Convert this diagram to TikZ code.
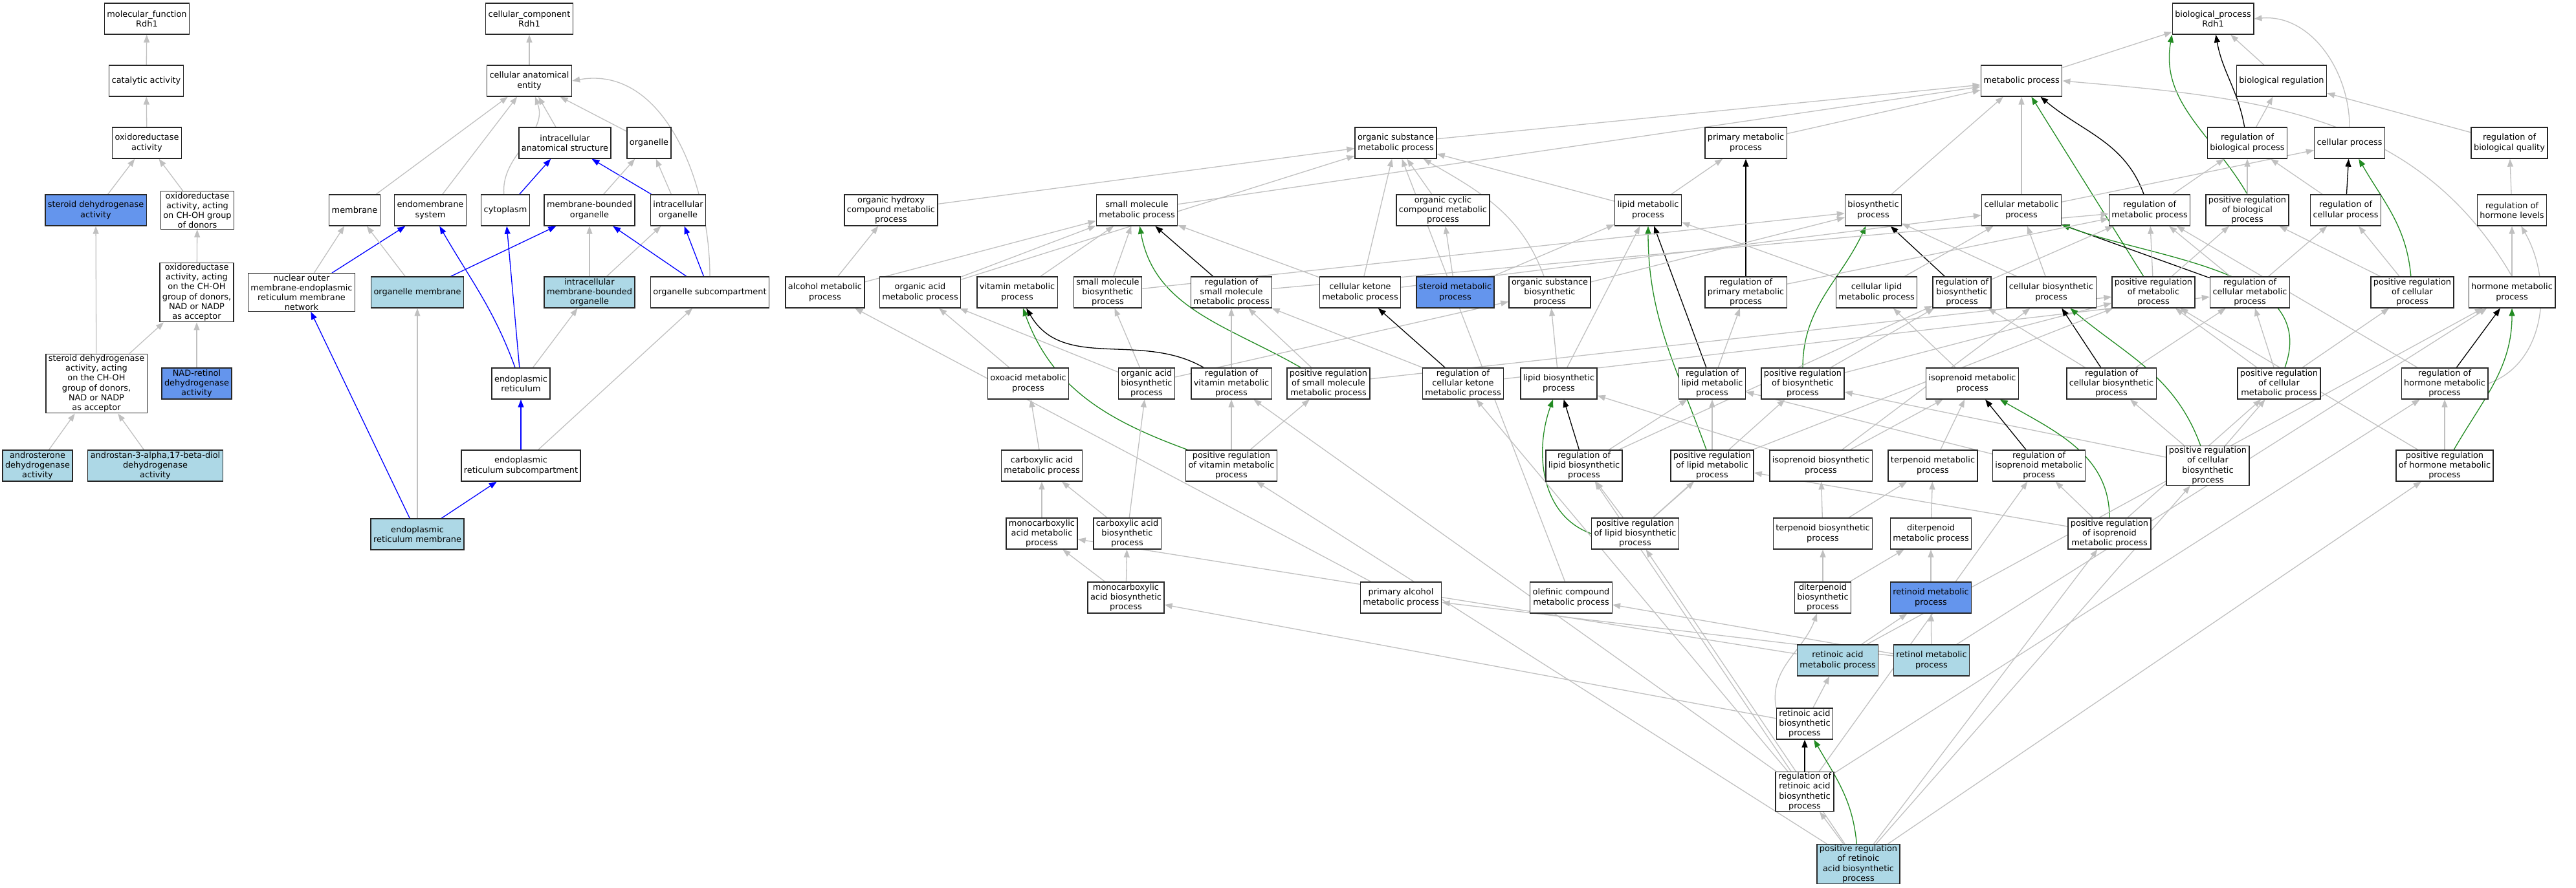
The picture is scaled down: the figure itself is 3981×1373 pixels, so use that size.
\documentclass[tikz,border=0pt]{standalone}
\usepackage{fontspec}
\setmainfont{DejaVu Sans}
\usetikzlibrary{arrows.meta, backgrounds}

\definecolor{edgegray}{RGB}{192,192,192}
\definecolor{partblue}{RGB}{0,0,255}
\definecolor{posgreen}{RGB}{34,139,34}
\definecolor{hitblue}{RGB}{100,149,237}
\definecolor{annoblue}{RGB}{173,216,230}

\tikzset{
    goterm/.style={draw=black!85, line width=1.4pt, fill=white, align=center,
        inner xsep=4pt, inner ysep=1.5pt, minimum height=48pt,
        font=\fontsize{12.9}{15.2}\selectfont},
    gohit/.style={goterm, fill=hitblue},
    goanno/.style={goterm, fill=annoblue},
    isa/.style={color=edgegray, line width=1.3pt, -{Triangle[length=12pt,width=9pt]}},
    partof/.style={isa, color=partblue},
    regulates/.style={isa, color=black},
    posreg/.style={isa, color=posgreen}
}

\begin{document}
\begin{tikzpicture}[x=1pt, y=-1pt]
    % Page frame
    \useasboundingbox (0,0) rectangle (3981,1373);

    % Molecular function terms
    \node[goterm] (mf) at (227,29) {molecular\_function\\Rdh1};
    \node[goterm] (cat) at (226,125) {catalytic activity};
    \node[goterm] (oxr) at (227,221) {oxidoreductase\\activity};
    \node[gohit] (sdh) at (148,325) {steroid dehydrogenase\\activity};
    \node[goterm] (oxch) at (305,325) {oxidoreductase\\activity, acting\\on CH-OH group\\of donors};
    \node[goterm] (oxnad) at (304,452) {oxidoreductase\\activity, acting\\on the CH-OH\\group of donors,\\NAD or NADP\\as acceptor};
    \node[goterm] (sdhnad) at (149,593) {steroid dehydrogenase\\activity, acting\\on the CH-OH\\group of donors,\\NAD or NADP\\as acceptor};
    \node[gohit] (nadret) at (304,593) {NAD-retinol\\dehydrogenase\\activity};
    \node[goanno] (andr) at (58,720) {androsterone\\dehydrogenase\\activity};
    \node[goanno] (andd) at (240,720) {androstan-3-alpha,17-beta-diol\\dehydrogenase\\activity};

    % Cellular component terms
    \node[goterm] (cc) at (818,29) {cellular\_component\\Rdh1};
    \node[goterm] (cae) at (818,125) {cellular anatomical\\entity};
    \node[goterm] (ias) at (873,221) {intracellular\\anatomical structure};
    \node[goterm] (org) at (1003,221) {organelle};
    \node[goterm] (mem) at (548,325) {membrane};
    \node[goterm] (ems) at (665,325) {endomembrane\\system};
    \node[goterm] (cyt) at (781,325) {cytoplasm};
    \node[goterm] (mbo) at (911,325) {membrane-bounded\\organelle};
    \node[goterm] (io) at (1048,325) {intracellular\\organelle};
    \node[goterm] (nomer) at (466,452) {nuclear outer\\membrane-endoplasmic\\reticulum membrane\\network};
    \node[goanno] (orgmem) at (645,452) {organelle membrane};
    \node[goanno] (imbo) at (911,452) {intracellular\\membrane-bounded\\organelle};
    \node[goterm] (osc) at (1097,452) {organelle subcompartment};
    \node[goterm] (er) at (805,593) {endoplasmic\\reticulum};
    \node[goterm] (ersc) at (805,720) {endoplasmic\\reticulum subcompartment};
    \node[goanno] (erm) at (645,826) {endoplasmic\\reticulum membrane};

    % Biological process terms
    \node[goterm] (bp) at (3420,29) {biological\_process\\Rdh1};
    \node[goterm] (metab) at (3124,125) {metabolic process};
    \node[goterm] (bioreg) at (3526,125) {biological regulation};
    \node[goterm] (orgsub) at (2157,221) {organic substance\\metabolic process};
    \node[goterm] (primmet) at (2698,221) {primary metabolic\\process};
    \node[goterm] (regbp) at (3473,221) {regulation of\\biological process};
    \node[goterm] (cellproc) at (3631,221) {cellular process};
    \node[goterm] (regbq) at (3878,221) {regulation of\\biological quality};
    \node[goterm] (ohcm) at (1377,325) {organic hydroxy\\compound metabolic\\process};
    \node[goterm] (smm) at (1757,325) {small molecule\\metabolic process};
    \node[goterm] (occm) at (2230,325) {organic cyclic\\compound metabolic\\process};
    \node[goterm] (lipm) at (2547,325) {lipid metabolic\\process};
    \node[goterm] (biosyn) at (2895,325) {biosynthetic\\process};
    \node[goterm] (cellmet) at (3124,325) {cellular metabolic\\process};
    \node[goterm] (regmet) at (3322,325) {regulation of\\metabolic process};
    \node[goterm] (posregbp) at (3473,325) {positive regulation\\of biological\\process};
    \node[goterm] (regcp) at (3625,325) {regulation of\\cellular process};
    \node[goterm] (reghl) at (3882,325) {regulation of\\hormone levels};
    \node[goterm] (alcm) at (1275,452) {alcohol metabolic\\process};
    \node[goterm] (oam) at (1422,452) {organic acid\\metabolic process};
    \node[goterm] (vitm) at (1572,452) {vitamin metabolic\\process};
    \node[goterm] (smb) at (1712,452) {small molecule\\biosynthetic\\process};
    \node[goterm] (regsmm) at (1903,452) {regulation of\\small molecule\\metabolic process};
    \node[goterm] (ckm) at (2102,452) {cellular ketone\\metabolic process};
    \node[gohit] (sterm) at (2249,452) {steroid metabolic\\process};
    \node[goterm] (osb) at (2395,452) {organic substance\\biosynthetic\\process};
    \node[goterm] (regprim) at (2698,452) {regulation of\\primary metabolic\\process};
    \node[goterm] (cellip) at (2900,452) {cellular lipid\\metabolic process};
    \node[goterm] (regbio) at (3032,452) {regulation of\\biosynthetic\\process};
    \node[goterm] (cellbio) at (3170,452) {cellular biosynthetic\\process};
    \node[goterm] (posregmet) at (3328,452) {positive regulation\\of metabolic\\process};
    \node[goterm] (regcm) at (3477,452) {regulation of\\cellular metabolic\\process};
    \node[goterm] (posregcp) at (3728,452) {positive regulation\\of cellular\\process};
    \node[goterm] (hormm) at (3882,452) {hormone metabolic\\process};
    \node[goterm] (oxo) at (1589,593) {oxoacid metabolic\\process};
    \node[goterm] (oab) at (1772,593) {organic acid\\biosynthetic\\process};
    \node[goterm] (regvit) at (1903,593) {regulation of\\vitamin metabolic\\process};
    \node[goterm] (posregsmm) at (2053,593) {positive regulation\\of small molecule\\metabolic process};
    \node[goterm] (regckm) at (2261,593) {regulation of\\cellular ketone\\metabolic process};
    \node[goterm] (lipb) at (2409,593) {lipid biosynthetic\\process};
    \node[goterm] (reglip) at (2646,593) {regulation of\\lipid metabolic\\process};
    \node[goterm] (posregbio) at (2786,593) {positive regulation\\of biosynthetic\\process};
    \node[goterm] (isom) at (3048,593) {isoprenoid metabolic\\process};
    \node[goterm] (regcb) at (3263,593) {regulation of\\cellular biosynthetic\\process};
    \node[goterm] (posregcm) at (3522,593) {positive regulation\\of cellular\\metabolic process};
    \node[goterm] (reghm) at (3778,593) {regulation of\\hormone metabolic\\process};
    \node[goterm] (carbm) at (1610,720) {carboxylic acid\\metabolic process};
    \node[goterm] (posregvit) at (1903,720) {positive regulation\\of vitamin metabolic\\process};
    \node[goterm] (reglb) at (2448,720) {regulation of\\lipid biosynthetic\\process};
    \node[goterm] (posreglip) at (2646,720) {positive regulation\\of lipid metabolic\\process};
    \node[goterm] (isob) at (2814,720) {isoprenoid biosynthetic\\process};
    \node[goterm] (terpm) at (2987,720) {terpenoid metabolic\\process};
    \node[goterm] (regiso) at (3151,720) {regulation of\\isoprenoid metabolic\\process};
    \node[goterm] (posregcb) at (3412,720) {positive regulation\\of cellular\\biosynthetic\\process};
    \node[goterm] (posreghm) at (3778,720) {positive regulation\\of hormone metabolic\\process};
    \node[goterm] (mcam) at (1610,825) {monocarboxylic\\acid metabolic\\process};
    \node[goterm] (cab) at (1742,825) {carboxylic acid\\biosynthetic\\process};
    \node[goterm] (posreglb) at (2527,825) {positive regulation\\of lipid biosynthetic\\process};
    \node[goterm] (terpb) at (2817,825) {terpenoid biosynthetic\\process};
    \node[goterm] (diterm) at (2984,825) {diterpenoid\\metabolic process};
    \node[goterm] (posregiso) at (3260,825) {positive regulation\\of isoprenoid\\metabolic process};
    \node[goterm] (mcab) at (1740,924) {monocarboxylic\\acid biosynthetic\\process};
    \node[goterm] (palc) at (2165,924) {primary alcohol\\metabolic process};
    \node[goterm] (olef) at (2428,924) {olefinic compound\\metabolic process};
    \node[goterm] (diterb) at (2817,924) {diterpenoid\\biosynthetic\\process};
    \node[gohit] (retm) at (2984,924) {retinoid metabolic\\process};
    \node[goanno] (ram) at (2840,1021) {retinoic acid\\metabolic process};
    \node[goanno] (rolm) at (2985,1021) {retinol metabolic\\process};
    \node[goterm] (rab) at (2789,1119) {retinoic acid\\biosynthetic\\process};
    \node[goterm] (regrab) at (2789,1224) {regulation of\\retinoic acid\\biosynthetic\\process};
    \node[goanno] (posregrab) at (2872,1336) {positive regulation\\of retinoic\\acid biosynthetic\\process};

    \begin{scope}[on background layer]
    % Molecular function links
    \draw[isa] (cat) -- (mf);
    \draw[isa] (oxr) -- (cat);
    \draw[isa] (sdh) -- (oxr);
    \draw[isa] (oxch) -- (oxr);
    \draw[isa] (oxnad) -- (oxch);
    \draw[isa] (sdhnad) -- (sdh);
    \draw[isa] (sdhnad) -- (oxnad);
    \draw[isa] (nadret) -- (oxnad);
    \draw[isa] (andr) -- (sdhnad);
    \draw[isa] (andd) -- (sdhnad);

    % Cellular component links
    \draw[isa] (cae) -- (cc);
    \draw[isa] (mem) -- (cae);
    \draw[isa] (ems) -- (cae);
    \draw[isa] (cyt) to[out=95, in=-70] (cae);
    \draw[isa] (ias) -- (cae);
    \draw[isa] (org) -- (cae);
    \draw[isa] (osc.north) to[out=90, in=10] (cae.east);
    \draw[partof] (cyt) -- (ias);
    \draw[partof] (io) -- (ias);
    \draw[isa] (mbo) -- (org);
    \draw[isa] (io) -- (org);
    \draw[isa] (nomer) -- (mem);
    \draw[partof] (nomer) -- (ems);
    \draw[isa] (orgmem) -- (mem);
    \draw[partof] (orgmem) -- (mbo);
    \draw[partof] (er) to[out=110, in=-60] (ems);
    \draw[partof] (er) -- (cyt);
    \draw[isa] (er) -- (imbo);
    \draw[isa] (imbo) -- (mbo);
    \draw[isa] (imbo) -- (io);
    \draw[partof] (osc) -- (mbo);
    \draw[partof] (osc) -- (io);
    \draw[partof] (ersc) -- (er);
    \draw[isa] (ersc) -- (osc);
    \draw[partof] (erm) -- (nomer);
    \draw[isa] (erm) -- (orgmem);
    \draw[partof] (erm) -- (ersc);

    % Biological process links, upper ranks
    \draw[isa] (metab) -- (bp);
    \draw[isa] (bioreg) -- (bp);
    \draw[isa] (cellproc.north) to[out=90, in=5] (bp.east);
    \draw[regulates] (regbp) to[out=100, in=-80] (bp);
    \draw[posreg] (posregbp.north) to[out=120, in=-100] (bp.south west);
    \draw[isa] (primmet) -- (metab);
    \draw[isa] (orgsub) -- (metab);
    \draw[isa] (smm) -- (metab);
    \draw[isa] (biosyn) -- (metab);
    \draw[isa] (cellmet) -- (metab);
    \draw[isa] (hormm.north) to[out=120, in=-5] (metab.east);
    \draw[regulates] (regmet) to[out=110, in=-40] (metab);
    \draw[posreg] (posregmet) -- (metab);
    \draw[isa] (regbp) -- (bioreg);
    \draw[isa] (regbq) -- (bioreg);
    \draw[isa] (ohcm) -- (orgsub);
    \draw[isa] (oam) -- (orgsub);
    \draw[isa] (ckm) -- (orgsub);
    \draw[isa] (occm) -- (orgsub);
    \draw[isa] (osb) to[out=110, in=-30] (orgsub);
    \draw[isa] (lipm) -- (orgsub);
    \draw[isa] (olef) -- (orgsub);
    \draw[isa] (lipm) -- (primmet);
    \draw[regulates] (regprim) -- (primmet);
    \draw[isa] (alcm) -- (ohcm);
    \draw[isa] (alcm) -- (smm);
    \draw[isa] (oam) -- (smm);
    \draw[isa] (vitm) -- (smm);
    \draw[isa] (smb) -- (smm);
    \draw[isa] (ckm) -- (smm);
    \draw[regulates] (regsmm) -- (smm);
    \draw[posreg] (posregsmm) to[out=150, in=-80] (smm);
    \draw[isa] (sterm) -- (occm);
    \draw[isa] (sterm) -- (lipm);
    \draw[isa] (lipb) -- (lipm);
    \draw[isa] (cellip) -- (lipm);
    \draw[regulates] (reglip) -- (lipm);
    \draw[posreg] (posreglip) to[out=110, in=-90] (lipm);
    \draw[isa] (osb) -- (biosyn);
    \draw[isa] (smb) -- (biosyn);
    \draw[isa] (cellbio) -- (biosyn);
    \draw[regulates] (regbio) -- (biosyn);
    \draw[posreg] (posregbio) to[out=90, in=-115] (biosyn);
    \draw[isa] (ckm) -- (cellmet);
    \draw[isa] (cellip) -- (cellmet);
    \draw[isa] (cellbio) -- (cellmet);
    \draw[regulates] (regcm) -- (cellmet);
    \draw[posreg] (posregcm) to[out=70, in=-20] (cellmet);
    \draw[isa] (cellmet) -- (cellproc);
    \draw[regulates] (regcp) -- (cellproc);
    \draw[posreg] (posregcp) to[out=95, in=-60] (cellproc);
    \draw[isa] (regmet) -- (regbp);
    \draw[isa] (posregbp) -- (regbp);
    \draw[isa] (regcp) -- (regbp);
    \draw[isa] (regprim) -- (regmet);
    \draw[isa] (regbio) -- (regmet);
    \draw[isa] (regsmm) -- (regmet);
    \draw[isa] (regcm) -- (regmet);
    \draw[isa] (posregmet) -- (regmet);
    \draw[isa] (reghm) -- (regmet);
    \draw[isa] (posregmet) -- (posregbp);
    \draw[isa] (posregcp) -- (posregbp);
    \draw[isa] (regcm) -- (regcp);
    \draw[isa] (posregcp) -- (regcp);
    \draw[isa] (reghl) -- (regbq);
    \draw[isa] (hormm) -- (reghl);
    \draw[isa] (reghm.east) to[out=20, in=-60] (reghl);

    % Biological process links, middle ranks
    \draw[isa] (lipb) -- (osb);
    \draw[isa] (oab) -- (osb);
    \draw[isa] (oxo) -- (oam);
    \draw[isa] (oab) -- (oam);
    \draw[isa] (oab) -- (smb);
    \draw[regulates] (regvit) to[out=150, in=-60] (vitm);
    \draw[posreg] (posregvit) to[out=160, in=-70] (vitm);
    \draw[isa] (regvit) -- (regsmm);
    \draw[isa] (posregsmm) -- (regsmm);
    \draw[isa] (regckm) -- (regsmm);
    \draw[isa] (posregsmm) -- (posregmet);
    \draw[regulates] (regckm) -- (ckm);
    \draw[isa] (regckm) -- (regcm);
    \draw[isa] (reglip) -- (regprim);
    \draw[isa] (posregbio) -- (regbio);
    \draw[isa] (posregbio) -- (posregmet);
    \draw[isa] (isom) -- (cellip);
    \draw[regulates] (regcb) -- (cellbio);
    \draw[isa] (regcb) -- (regbio);
    \draw[isa] (regcb) -- (regcm);
    \draw[posreg] (posregcb) to[out=110, in=-40] (cellbio);
    \draw[isa] (posregcb) -- (regcb);
    \draw[isa] (posregcb) -- (posregbio);
    \draw[isa] (posregcb) -- (posregcm);
    \draw[isa] (posregcm) -- (regcm);
    \draw[isa] (posregcm) -- (posregmet);
    \draw[isa] (posregcm) -- (posregcp);
    \draw[regulates] (reghm) -- (hormm);
    \draw[posreg] (posreghm) to[out=60, in=-90] (hormm);
    \draw[isa] (posreghm) -- (reghm);
    \draw[isa] (posreghm) -- (posregmet);
    \draw[isa] (carbm) -- (oxo);
    \draw[isa] (posregvit) -- (regvit);
    \draw[isa] (posregvit) -- (posregsmm);
    \draw[regulates] (reglb) -- (lipb);
    \draw[isa] (reglb) -- (reglip);
    \draw[isa] (reglb) -- (regbio);
    \draw[isa] (posreglip) -- (reglip);
    \draw[isa] (posreglip) -- (posregmet);
    \draw[isa] (isob) -- (isom);
    \draw[isa] (isob) -- (lipb);
    \draw[isa] (isob) -- (cellbio);
    \draw[isa] (terpm) -- (isom);
    \draw[regulates] (regiso) -- (isom);
    \draw[isa] (regiso) -- (reglip);
    \draw[isa] (posregiso) -- (regiso);
    \draw[posreg] (posregiso) to[out=90, in=-30] (isom);
    \draw[isa] (posregiso) -- (posreglip);
    \draw[isa] (posregiso) -- (posregcm);

    % Biological process links, lower ranks
    \draw[isa] (mcam) -- (carbm);
    \draw[isa] (cab) -- (carbm);
    \draw[isa] (cab) -- (oab);
    \draw[isa] (posreglb) -- (reglb);
    \draw[posreg] (posreglb.west) to[out=160, in=-110] (lipb);
    \draw[isa] (posreglb) -- (posreglip);
    \draw[isa] (posreglb) -- (posregbio);
    \draw[isa] (terpb) -- (isob);
    \draw[isa] (terpb) -- (terpm);
    \draw[isa] (diterm) -- (terpm);
    \draw[isa] (mcab) -- (mcam);
    \draw[isa] (mcab) -- (cab);
    \draw[isa] (palc) -- (alcm);
    \draw[isa] (diterb) -- (terpb);
    \draw[isa] (diterb) -- (diterm);
    \draw[isa] (retm) -- (diterm);
    \draw[isa] (ram) -- (retm);
    \draw[isa] (ram) -- (mcam);
    \draw[isa] (ram) -- (hormm);
    \draw[isa] (rolm) -- (retm);
    \draw[isa] (rolm) -- (palc);
    \draw[isa] (rolm) -- (olef);
    \draw[isa] (rolm) -- (hormm);
    \draw[isa] (rab) -- (ram);
    \draw[isa] (rab) -- (mcab);
    \draw[isa] (rab.north west) to[out=100, in=-110] (diterb);
    \draw[regulates] (regrab) -- (rab);
    \draw[isa] (regrab) -- (regvit);
    \draw[isa] (regrab) -- (regckm);
    \draw[isa] (regrab) -- (reglb);
    \draw[isa] (regrab) -- (regiso);
    \draw[isa] (regrab) -- (reghm);
    \draw[posreg] (posregrab) to[out=95, in=-60] (rab);
    \draw[isa] (posregrab) -- (regrab);
    \draw[isa] (posregrab) -- (posregvit);
    \draw[isa] (posregrab) -- (posreglb);
    \draw[isa] (posregrab) -- (posregiso);
    \draw[isa] (posregrab) -- (posregcb);
    \draw[isa] (posregrab) -- (posreghm);
    \end{scope}
\end{tikzpicture}
\end{document}
